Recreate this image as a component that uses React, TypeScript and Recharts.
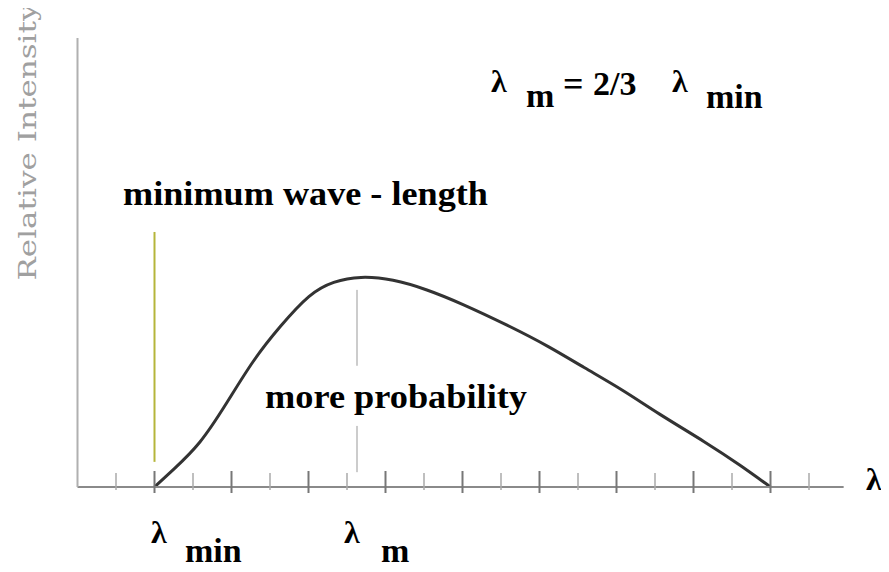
import { LineChart, Line, XAxis, YAxis, ReferenceLine } from 'recharts';

// wavelength in tick units, intensity in % of plot height
const wavelength = [1, 1.48, 2.18, 2.88, 3.56, 4.26, 5.04, 5.64, 6.34, 7.19, 8.08, 8.94, 10.16, 11.27, 12.13, 13.17, 14.05, 15.35, 16.21, 17];
const intensity = [0, 3.8, 9.4, 18.7, 28.3, 35.8, 43.2, 45.8, 47.0, 46.3, 44.0, 41.0, 36.1, 31.2, 26.7, 21.6, 16.5, 9.8, 4.9, 0];
const xTicks = [0, 1, 2, 3, 4, 5, 6, 7, 8, 9, 10, 11, 12, 13, 14, 15, 16, 17, 18];

const lambdaMin = 1;
const lambdaMinSpan = [5.6, 56.8];
const lambdaPeak = 6.26;
const lambdaPeakSpans = [[27, 43.9], [3.3, 13.6]];

const spectrum = wavelength.map((x, i) => ({ x, y: intensity[i] }));

function AxisTick(props: any) {
  const { x, y, payload } = props;
  const dark = payload.value % 2 === 1;
  return (
    <line
      x1={x}
      x2={x}
      y1={y - (dark ? 16 : 14)}
      y2={y + (dark ? 6 : 3)}
      stroke={dark ? '#777' : '#aaa'}
      strokeWidth={dark ? 2 : 1.5}
    />
  );
}

function Annotations() {
  return (
    <svg width={889} height={572} style={{ position: 'absolute', left: 0, top: 0 }}>
      <text
        x={36}
        y={142}
        transform="rotate(-90 36 142)"
        textAnchor="middle"
        fontFamily="DejaVu Serif"
        fontSize={24}
        fill="#a0a0a0"
        textLength={277}
        lengthAdjust="spacingAndGlyphs"
      >
        Relative Intensity
      </text>

      <text x={123} y={205} fontSize={34} fontFamily="Liberation Serif" fontWeight={700} textLength={365} lengthAdjust="spacingAndGlyphs">
        minimum wave - length
      </text>
      <text x={265} y={408} fontSize={34} fontFamily="Liberation Serif" fontWeight={700} textLength={262} lengthAdjust="spacingAndGlyphs">
        more probability
      </text>

      {/* formula, top right */}
      <text x={491} y={92} fontSize={32} fontFamily="Liberation Serif" fontWeight={700}>λ</text>
      <text x={526} y={107} fontSize={34} fontFamily="Liberation Serif" fontWeight={700}>m</text>
      <text x={563} y={96} fontSize={36} fontFamily="Liberation Serif" fontWeight={700}>=</text>
      <text x={593} y={95} fontSize={34} fontFamily="Liberation Serif" fontWeight={700}>2/3</text>
      <text x={672} y={92} fontSize={32} fontFamily="Liberation Serif" fontWeight={700}>λ</text>
      <text x={706} y={108} fontSize={34} fontFamily="Liberation Serif" fontWeight={700}>min</text>

      {/* axis labels */}
      <text x={151} y={543} fontSize={32} fontFamily="Liberation Serif" fontWeight={700}>λ</text>
      <text x={185} y={562} fontSize={34} fontFamily="Liberation Serif" fontWeight={700}>min</text>
      <text x={344} y={543} fontSize={32} fontFamily="Liberation Serif" fontWeight={700}>λ</text>
      <text x={381} y={562} fontSize={34} fontFamily="Liberation Serif" fontWeight={700}>m</text>
      <text x={866} y={490} fontSize={32} fontFamily="Liberation Serif" fontWeight={700}>λ</text>
    </svg>
  );
}

export default function App() {
  return (
    <div style={{ position: 'relative', margin: -8, width: 889, height: 572, background: '#fff' }}>
      <LineChart
        width={889}
        height={572}
        data={spectrum}
        margin={{ top: 38, right: 45.35, bottom: 55, left: 47.5 }}
      >
        <XAxis
          type="number"
          dataKey="x"
          domain={[-1, 18.9]}
          ticks={xTicks}
          interval={0}
          height={30}
          tickSize={0}
          tickMargin={0}
          tickLine={false}
          tick={<AxisTick />}
          axisLine={{ stroke: '#8a8a8a', strokeWidth: 2 }}
        />
        <YAxis
          type="number"
          domain={[0, 100]}
          width={30}
          tick={false}
          tickLine={false}
          axisLine={{ stroke: '#b0b0b0', strokeWidth: 2 }}
        />
        <ReferenceLine
          segment={[{ x: lambdaMin, y: lambdaMinSpan[0] }, { x: lambdaMin, y: lambdaMinSpan[1] }]}
          stroke="#b5b53a"
          strokeWidth={2}
        />
        {lambdaPeakSpans.map((s, i) => (
          <ReferenceLine
            key={i}
            segment={[{ x: lambdaPeak, y: s[0] }, { x: lambdaPeak, y: s[1] }]}
            stroke="#999"
            strokeWidth={1}
          />
        ))}
        <Line
          type="basis"
          dataKey="y"
          stroke="#333"
          strokeWidth={3}
          dot={false}
          isAnimationActive={false}
        />
      </LineChart>
      <Annotations />
    </div>
  );
}
